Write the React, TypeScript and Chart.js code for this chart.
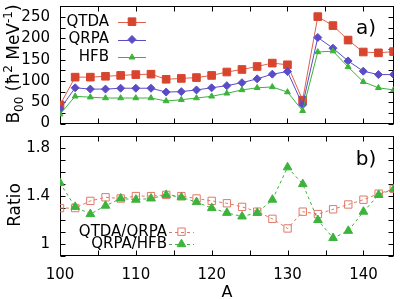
import React, { useEffect, useRef } from "react";
import { Chart, registerables } from "chart.js";

Chart.register(...registerables);

// Mass numbers (x axis)
const MASS_NUMBERS = [100, 102, 104, 106, 108, 110, 112, 114, 116, 118, 120, 122, 124, 126, 128, 130, 132, 134, 136, 138, 140, 142, 144];

// Panel a): B00 strengths
const QTDA = [44, 109, 109, 111, 113, 115, 116, 104, 106, 108, 113, 121, 127, 134, 142, 138, 55, 251, 230, 196, 168, 166, 169];
const QRPA = [34, 84, 81, 81, 83, 83, 83, 74, 75, 79, 84, 89, 96, 105, 116, 122, 44, 202, 177, 147, 123, 115, 115];
const HFB = [22, 64, 62, 60, 60, 60, 60, 53, 56, 60, 64, 71, 79, 84, 86, 74, 30, 168, 170, 133, 98, 84, 79];

// Panel b): ratios
const RATIO_QTDA_QRPA = [1.3, 1.3, 1.36, 1.39, 1.38, 1.4, 1.4, 1.41, 1.4, 1.38, 1.36, 1.34, 1.31, 1.27, 1.21, 1.13, 1.27, 1.25, 1.29, 1.33, 1.37, 1.42, 1.46];
const RATIO_QRPA_HFB = [1.51, 1.31, 1.25, 1.32, 1.38, 1.37, 1.38, 1.41, 1.39, 1.35, 1.3, 1.26, 1.23, 1.26, 1.37, 1.64, 1.5, 1.2, 1.05, 1.11, 1.27, 1.41, 1.46];

// Tick labels
const X_TICK_LABELS = [100, 110, 120, 130, 140];
const TOP_Y_TICK_LABELS = [0, 50, 100, 150, 200, 250];
const BOTTOM_Y_TICK_LABELS = [1, 1.4, 1.8];

const FONT = "'DejaVu Sans', sans-serif";
const RED = "#d8452f";
const RED_LINE = "#e0604c";
const BLUE = "#5a4cc6";
const GREEN = "#3cb43c";
const SALMON = "#e07868";

const pts = (ys: number[]) => MASS_NUMBERS.map((x, i) => ({ x, y: ys[i] }));

function drawMarker(ctx: CanvasRenderingContext2D, style: string, x: number, y: number, r: number, fill: string, stroke: string) {
  ctx.beginPath();
  if (style === "rect") {
    const s = r * Math.SQRT1_2;
    ctx.rect(x - s, y - s, 2 * s, 2 * s);
  } else if (style === "rectRot") {
    ctx.moveTo(x, y - r);
    ctx.lineTo(x + r, y);
    ctx.lineTo(x, y + r);
    ctx.lineTo(x - r, y);
    ctx.closePath();
  } else {
    const c = Math.cos(Math.PI / 6) * r;
    ctx.moveTo(x, y - r);
    ctx.lineTo(x + c, y + r / 2);
    ctx.lineTo(x - c, y + r / 2);
    ctx.closePath();
  }
  ctx.fillStyle = fill;
  ctx.fill();
  ctx.lineWidth = 1;
  ctx.strokeStyle = stroke;
  ctx.stroke();
}

// Box around the plot area with inward ticks on all four sides
const framePlugin = {
  id: "frame",
  beforeDatasetsDraw(chart: any, _args: any, opts: any) {
    const { ctx, chartArea } = chart;
    const { left, right, top, bottom } = chartArea;
    const xs = chart.scales.x;
    const ys = chart.scales.y;
    const L = Math.round(left) + 0.5;
    const R = Math.round(right) - 0.5;
    const T = Math.round(top) + 0.5;
    const B = Math.round(bottom) - 0.5;
    const len = 5;
    ctx.save();
    ctx.strokeStyle = "#000";
    ctx.lineWidth = 1;
    ctx.beginPath();
    for (let v = xs.min; v <= xs.max + 1e-9; v += opts.xStep) {
      const p = Math.round(xs.getPixelForValue(v)) + 0.5;
      ctx.moveTo(p, B);
      ctx.lineTo(p, B - len);
      ctx.moveTo(p, T);
      ctx.lineTo(p, T + len);
    }
    for (let v = ys.min; v <= ys.max + 1e-9; v += opts.yStep) {
      const p = Math.round(ys.getPixelForValue(v)) + 0.5;
      ctx.moveTo(L, p);
      ctx.lineTo(L + len, p);
      ctx.moveTo(R, p);
      ctx.lineTo(R - len, p);
    }
    ctx.stroke();
    ctx.strokeRect(L, T, R - L, B - T);
    ctx.restore();
  },
};

// Key entries and free text drawn on top of each panel
const annotationPlugin = {
  id: "annotations",
  afterDraw(chart: any, _args: any, opts: any) {
    const { ctx } = chart;
    ctx.save();
    const key = opts.key;
    ctx.font = `15px ${FONT}`;
    ctx.textAlign = "right";
    ctx.textBaseline = "middle";
    chart.data.datasets.forEach((ds: any, i: number) => {
      const y = key.y0 + i * key.dy;
      ctx.fillStyle = "#000";
      ctx.fillText(ds.label, key.textRight, y);
      ctx.save();
      ctx.strokeStyle = ds.borderColor;
      ctx.lineWidth = ds.borderWidth;
      ctx.setLineDash(ds.borderDash || []);
      ctx.beginPath();
      ctx.moveTo(key.lineStart, Math.round(y) + 0.5);
      ctx.lineTo(key.lineEnd, Math.round(y) + 0.5);
      ctx.stroke();
      ctx.restore();
      drawMarker(ctx, ds.pointStyle, (key.lineStart + key.lineEnd) / 2, y, ds.pointRadius, ds.pointBackgroundColor, ds.pointBorderColor);
    });

    // Panel letter
    ctx.font = `20px ${FONT}`;
    ctx.textAlign = "center";
    ctx.fillStyle = "#000";
    ctx.fillText(opts.letter.text, opts.letter.x, opts.letter.y);

    // Rotated y-axis title made of pieces (sub/superscripts)
    const parts: { t: string; size: number; dy: number }[] = opts.yTitle.parts;
    let total = 0;
    parts.forEach((p) => {
      ctx.font = `${p.size}px ${FONT}`;
      total += ctx.measureText(p.t).width;
    });
    ctx.translate(opts.yTitle.x, opts.yTitle.y);
    ctx.rotate(-Math.PI / 2);
    ctx.textAlign = "left";
    ctx.textBaseline = "alphabetic";
    let cx = -total / 2;
    parts.forEach((p) => {
      ctx.font = `${p.size}px ${FONT}`;
      ctx.fillText(p.t, cx, p.dy);
      cx += ctx.measureText(p.t).width;
    });
    ctx.restore();

    if (opts.xTitle) {
      ctx.save();
      ctx.font = `16px ${FONT}`;
      ctx.textAlign = "center";
      ctx.textBaseline = "middle";
      ctx.fillStyle = "#000";
      ctx.fillText(opts.xTitle.text, opts.xTitle.x, opts.xTitle.y);
      ctx.restore();
    }
  },
};

function fixedTicks(values: number[]) {
  return (scale: any) => {
    scale.ticks = values.map((v) => ({ value: v }));
  };
}

const plainLabel = (v: any) => String(v);

export default function App() {
  const topRef = useRef<HTMLCanvasElement>(null);
  const botRef = useRef<HTMLCanvasElement>(null);

  useEffect(() => {
    const tickFont = { family: FONT, size: 15 };

    const top = new Chart(topRef.current!, {
      type: "line",
      data: {
        datasets: [
          { label: "QTDA", data: pts(QTDA), order: 3, borderColor: RED_LINE, borderWidth: 1, pointStyle: "rect", pointRadius: 5.4, pointBackgroundColor: RED, pointBorderColor: RED, pointBorderWidth: 1 },
          { label: "QRPA", data: pts(QRPA), order: 2, borderColor: BLUE, borderWidth: 1, pointStyle: "rectRot", pointRadius: 4, pointBackgroundColor: BLUE, pointBorderColor: BLUE, pointBorderWidth: 1 },
          { label: "HFB", data: pts(HFB), order: 1, borderColor: GREEN, borderWidth: 1, pointStyle: "triangle", pointRadius: 3.4, pointBackgroundColor: GREEN, pointBorderColor: GREEN, pointBorderWidth: 1 },
        ] as any,
      },
      options: {
        animation: false,
        responsive: false,
        events: [],
        layout: { padding: { top: 5, right: 6, left: 0, bottom: 0 } },
        plugins: {
          legend: { display: false },
          tooltip: { enabled: false },
          frame: { xStep: 5, yStep: 25 },
          annotations: {
            key: { y0: 21.7, dy: 17.8, textRight: 109, lineStart: 118, lineEnd: 146 },
            letter: { text: "a)", x: 366, y: 29 },
            yTitle: {
              x: 18.5,
              y: 64,
              parts: [
                { t: "B", size: 17, dy: 0 },
                { t: "00", size: 12, dy: 4 },
                { t: " (\u0127", size: 17, dy: 0 },
                { t: "2", size: 12, dy: -7 },
                { t: " MeV", size: 17, dy: 0 },
                { t: "-1", size: 12, dy: -7 },
                { t: ")", size: 17, dy: 0 },
              ],
            },
          },
        } as any,
        scales: {
          x: {
            type: "linear",
            min: 100,
            max: 144,
            grid: { display: false, drawTicks: false },
            border: { display: false },
            ticks: { display: false },
            afterFit: (s: any) => {
              s.height = 3;
              s.paddingLeft = 0;
              s.paddingRight = 0;
            },
          },
          y: {
            min: 0,
            max: 275,
            grid: { display: false, drawTicks: false },
            border: { display: false },
            ticks: { font: tickFont, color: "#000", padding: 10, callback: plainLabel },
            afterBuildTicks: fixedTicks(TOP_Y_TICK_LABELS),
            afterFit: (s: any) => {
              s.width = 60;
              s.paddingTop = 0;
              s.paddingBottom = 0;
            },
          },
        },
      },
      plugins: [framePlugin, annotationPlugin],
    });

    const bottom = new Chart(botRef.current!, {
      type: "line",
      data: {
        datasets: [
          { label: "QTDA/QRPA", data: pts(RATIO_QTDA_QRPA), order: 2, borderColor: SALMON, borderWidth: 1, borderDash: [3, 3], pointStyle: "rect", pointRadius: 5.2, pointBackgroundColor: "rgba(0,0,0,0)", pointBorderColor: SALMON, pointBorderWidth: 1 },
          { label: "QRPA/HFB", data: pts(RATIO_QRPA_HFB), order: 1, borderColor: GREEN, borderWidth: 1, borderDash: [3, 3], pointStyle: "triangle", pointRadius: 5, pointBackgroundColor: GREEN, pointBorderColor: GREEN, pointBorderWidth: 1 },
        ] as any,
      },
      options: {
        animation: false,
        responsive: false,
        events: [],
        layout: { padding: { top: 4, right: 6, left: 0, bottom: 0 } },
        plugins: {
          legend: { display: false },
          tooltip: { enabled: false },
          frame: { xStep: 5, yStep: 0.1 },
          annotations: {
            key: { y0: 101.7, dy: 12.5, textRight: 167, lineStart: 169, lineEnd: 194 },
            letter: { text: "b)", x: 366, y: 30 },
            yTitle: { x: 20, y: 75, parts: [{ t: "Ratio", size: 17, dy: 0 }] },
            xTitle: { text: "A", x: 227, y: 163 },
          },
        } as any,
        scales: {
          x: {
            type: "linear",
            min: 100,
            max: 144,
            grid: { display: false, drawTicks: false },
            border: { display: false },
            ticks: { font: tickFont, color: "#000", padding: 10, callback: plainLabel },
            afterBuildTicks: fixedTicks(X_TICK_LABELS),
            afterFit: (s: any) => {
              s.height = 43;
              s.paddingLeft = 0;
              s.paddingRight = 0;
            },
          },
          y: {
            min: 0.9,
            max: 1.9,
            grid: { display: false, drawTicks: false },
            border: { display: false },
            ticks: { font: tickFont, color: "#000", padding: 10, callback: plainLabel },
            afterBuildTicks: fixedTicks(BOTTOM_Y_TICK_LABELS),
            afterFit: (s: any) => {
              s.width = 60;
              s.paddingTop = 0;
              s.paddingBottom = 0;
            },
          },
        },
      },
      plugins: [framePlugin, annotationPlugin],
    });

    return () => {
      top.destroy();
      bottom.destroy();
    };
  }, []);

  return (
    <div style={{ position: "absolute", left: 0, top: 0, width: 400, height: 299, background: "#fff" }}>
      <canvas ref={topRef} width={400} height={130} style={{ position: "absolute", left: 0, top: 0, width: 400, height: 130 }} />
      <canvas ref={botRef} width={400} height={169} style={{ position: "absolute", left: 0, top: 130, width: 400, height: 169 }} />
    </div>
  );
}
